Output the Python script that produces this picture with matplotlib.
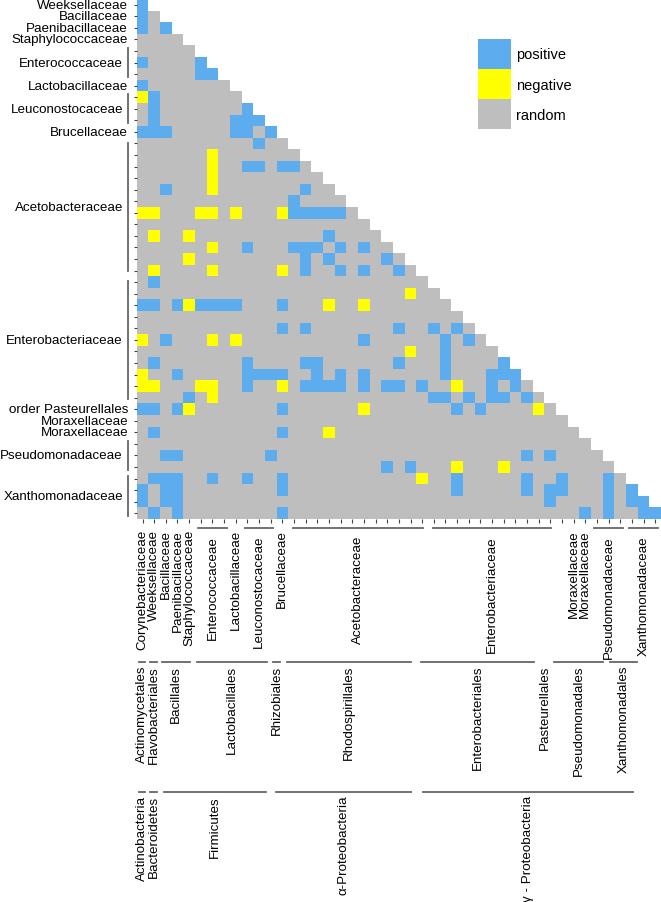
import numpy as np
import matplotlib
matplotlib.use('Agg')
import matplotlib.pyplot as plt
import matplotlib.transforms as mtransforms
from matplotlib.colors import ListedColormap
from matplotlib.patches import Patch

plt.rcParams['font.family'] = ['Liberation Sans', 'DejaVu Sans']

# taxon groups as (label, first taxon, last taxon); rows are taxa 1..45, columns taxa 0..44
families = [('Corynebacteriaceae', 0, 0), ('Weeksellaceae', 1, 1), ('Bacillaceae', 2, 2),
            ('Paenibacillaceae', 3, 3), ('Staphylococcaceae', 4, 4), ('Enterococcaceae', 5, 7),
            ('Lactobacillaceae', 8, 8), ('Leuconostocaceae', 9, 11), ('Brucellaceae', 12, 12),
            ('Acetobacteraceae', 13, 24), ('Enterobacteriaceae', 25, 35),
            ('order Pasteurellales', 36, 36), ('Moraxellaceae', 37, 37), ('Moraxellaceae', 38, 38),
            ('Pseudomonadaceae', 39, 41), ('Xanthomonadaceae', 42, 45)]
orders = [('Actinomycetales', 0, 0), ('Flavobacteriales', 1, 1), ('Bacillales', 2, 4),
          ('Lactobacillales', 5, 11), ('Rhizobiales', 12, 12), ('Rhodospirillales', 13, 24),
          ('Enterobacteriales', 25, 35), ('Pasteurellales', 36, 36),
          ('Pseudomonadales', 37, 41), ('Xanthomonadales', 42, 44)]
phyla = [('Actinobacteria', 0, 0), ('Bacteroidetes', 1, 1), ('Firmicutes', 2, 11),
         ('α-Proteobacteria', 12, 24), ('γ - Proteobacteria', 25, 44)]

# row -> columns of co-occurrence cells
positive = {0: [0], 1: [0], 2: [0, 2], 5: [0, 5], 6: [5, 6], 7: [0], 8: [1], 9: [1, 9],
            10: [1, 8, 9, 10], 11: [0, 1, 2, 8, 9, 11], 12: [10], 14: [9, 10, 12, 13],
            16: [2, 14], 17: [13], 18: [13, 14, 15, 16, 17], 20: [16],
            21: [9, 13, 14, 15, 17, 19], 22: [14, 16, 21], 23: [14, 17, 19, 22], 24: [1],
            26: [0, 1, 3, 5, 6, 7, 8, 12], 28: [12, 14, 22, 25, 27], 29: [2, 19, 26, 28],
            30: [26], 31: [1, 9, 14, 15, 22, 26, 31],
            32: [3, 9, 10, 11, 12, 15, 17, 19, 26, 30, 31, 32],
            33: [9, 14, 15, 16, 17, 19, 21, 22, 24, 30, 32],
            34: [4, 25, 26, 28, 30, 31, 33], 35: [0, 1, 3, 12, 27, 29], 37: [1, 12],
            39: [2, 3, 11, 33, 35], 40: [21, 23], 41: [1, 2, 3, 6, 9, 12, 27, 33, 36, 40],
            42: [0, 2, 3, 12, 27, 33, 35, 36, 40, 42], 43: [0, 2, 3, 35, 40, 42, 43],
            44: [1, 3, 12, 38, 40, 43, 44]}
negative = {8: [0], 13: [6], 14: [6], 15: [6], 16: [6], 18: [0, 1, 5, 6, 8, 12], 20: [1, 4],
            21: [6], 22: [4], 23: [1, 6, 12], 25: [23], 26: [4, 16, 19], 29: [0, 6, 8],
            30: [23], 32: [0], 33: [0, 1, 5, 6, 12, 27], 34: [6], 35: [4, 19, 34], 37: [16],
            40: [27, 31], 41: [24]}

legend_labels = ['positive', 'negative', 'random']
colors = ['#5CACEE', '#FFFF00', '#BEBEBE']

n = 45
mat = np.full((n, n), np.nan)
for r in range(n):
    mat[r, :r + 1] = 0
for r, cols in positive.items():
    mat[r, cols] = 1
for r, cols in negative.items():
    mat[r, cols] = 2

W, H = 661, 903
fig = plt.figure(figsize=(W / 100, H / 100), dpi=100)
ax = fig.add_axes([136.7 / W, 1 - 520 / H, 1 - 136.7 / W, 520 / H])
cmap = ListedColormap([colors[2], colors[0], colors[1]])
ax.pcolormesh(np.ma.masked_invalid(mat), cmap=cmap, vmin=-0.5, vmax=2.5)
ax.set_xlim(0, n)
ax.set_ylim(n, 0)
for s in ax.spines.values():
    s.set_visible(False)
ax.set_xticks(np.arange(n) + 0.5)
ax.set_xticklabels([])
ax.set_yticks(np.arange(n) + 0.5)
ax.set_yticklabels([])
ax.tick_params(axis='x', length=3, width=0.8, color='#444444')
ax.tick_params(axis='y', length=2.2, width=0.8, color='#444444', pad=1)

fs = 9.6
line_c = '#666666'
ty = mtransforms.blended_transform_factory(fig.transFigure, ax.transData)
tx = mtransforms.blended_transform_factory(ax.transData, fig.transFigure)


def fy(px):
    return 1 - px / H


def pad(k):
    return 0.2 + 0.02 * k


# y axis family labels
for name, a, b in families:
    r0, r1 = max(a, 1) - 1, b - 1
    if r0 < 0 or r1 < r0:
        continue
    if r0 == r1:
        ax.text(128 / W, r0 + 0.5, name, transform=ty, ha='right', va='center', fontsize=fs)
    else:
        k = r1 - r0 + 1
        ax.plot([127.7 / W] * 2, [r0 + pad(k), r1 + 1 - pad(k)], transform=ty, color=line_c,
                lw=1.3, clip_on=False)
        ax.text(123 / W, (r0 + r1 + 1) / 2, name, transform=ty, ha='right', va='center',
                fontsize=fs)


def x_level(groups, squeeze, line_y, text_y, single_y, lines_for_single, skip=()):
    for name, a, b in groups:
        if name in skip:
            continue
        b = min(b, n - 1)
        k = b - a + 1
        x0, x1 = a * squeeze, (b + 1) * squeeze
        if k > 1 or (lines_for_single and name != 'Pasteurellales'):
            ax.plot([x0 + pad(k), x1 - pad(k)], [fy(line_y)] * 2, transform=tx, color=line_c,
                    lw=1.3, clip_on=False)
            yy = text_y
        else:
            yy = single_y
        ax.text((x0 + x1) / 2, fy(yy), name, transform=tx, rotation=90, ha='center',
                va='top', fontsize=fs)


x_level(families, 1.0, 529.3, 536, 530, False, skip=('order Pasteurellales',))
x_level(orders, 0.96, 662.7, 666, 666, True)
x_level(phyla, 0.96, 793.3, 796, 796, True)

handles = [Patch(facecolor=c, edgecolor='none') for c in colors]
fig.legend(handles, legend_labels, loc='upper left', bbox_to_anchor=(478 / W, fy(40)),
           frameon=False, fontsize=10.5, handlelength=2.25, handleheight=2.8,
           handletextpad=0.35, labelspacing=0, borderpad=0, borderaxespad=0)

fig.savefig('out.png', dpi=100)
